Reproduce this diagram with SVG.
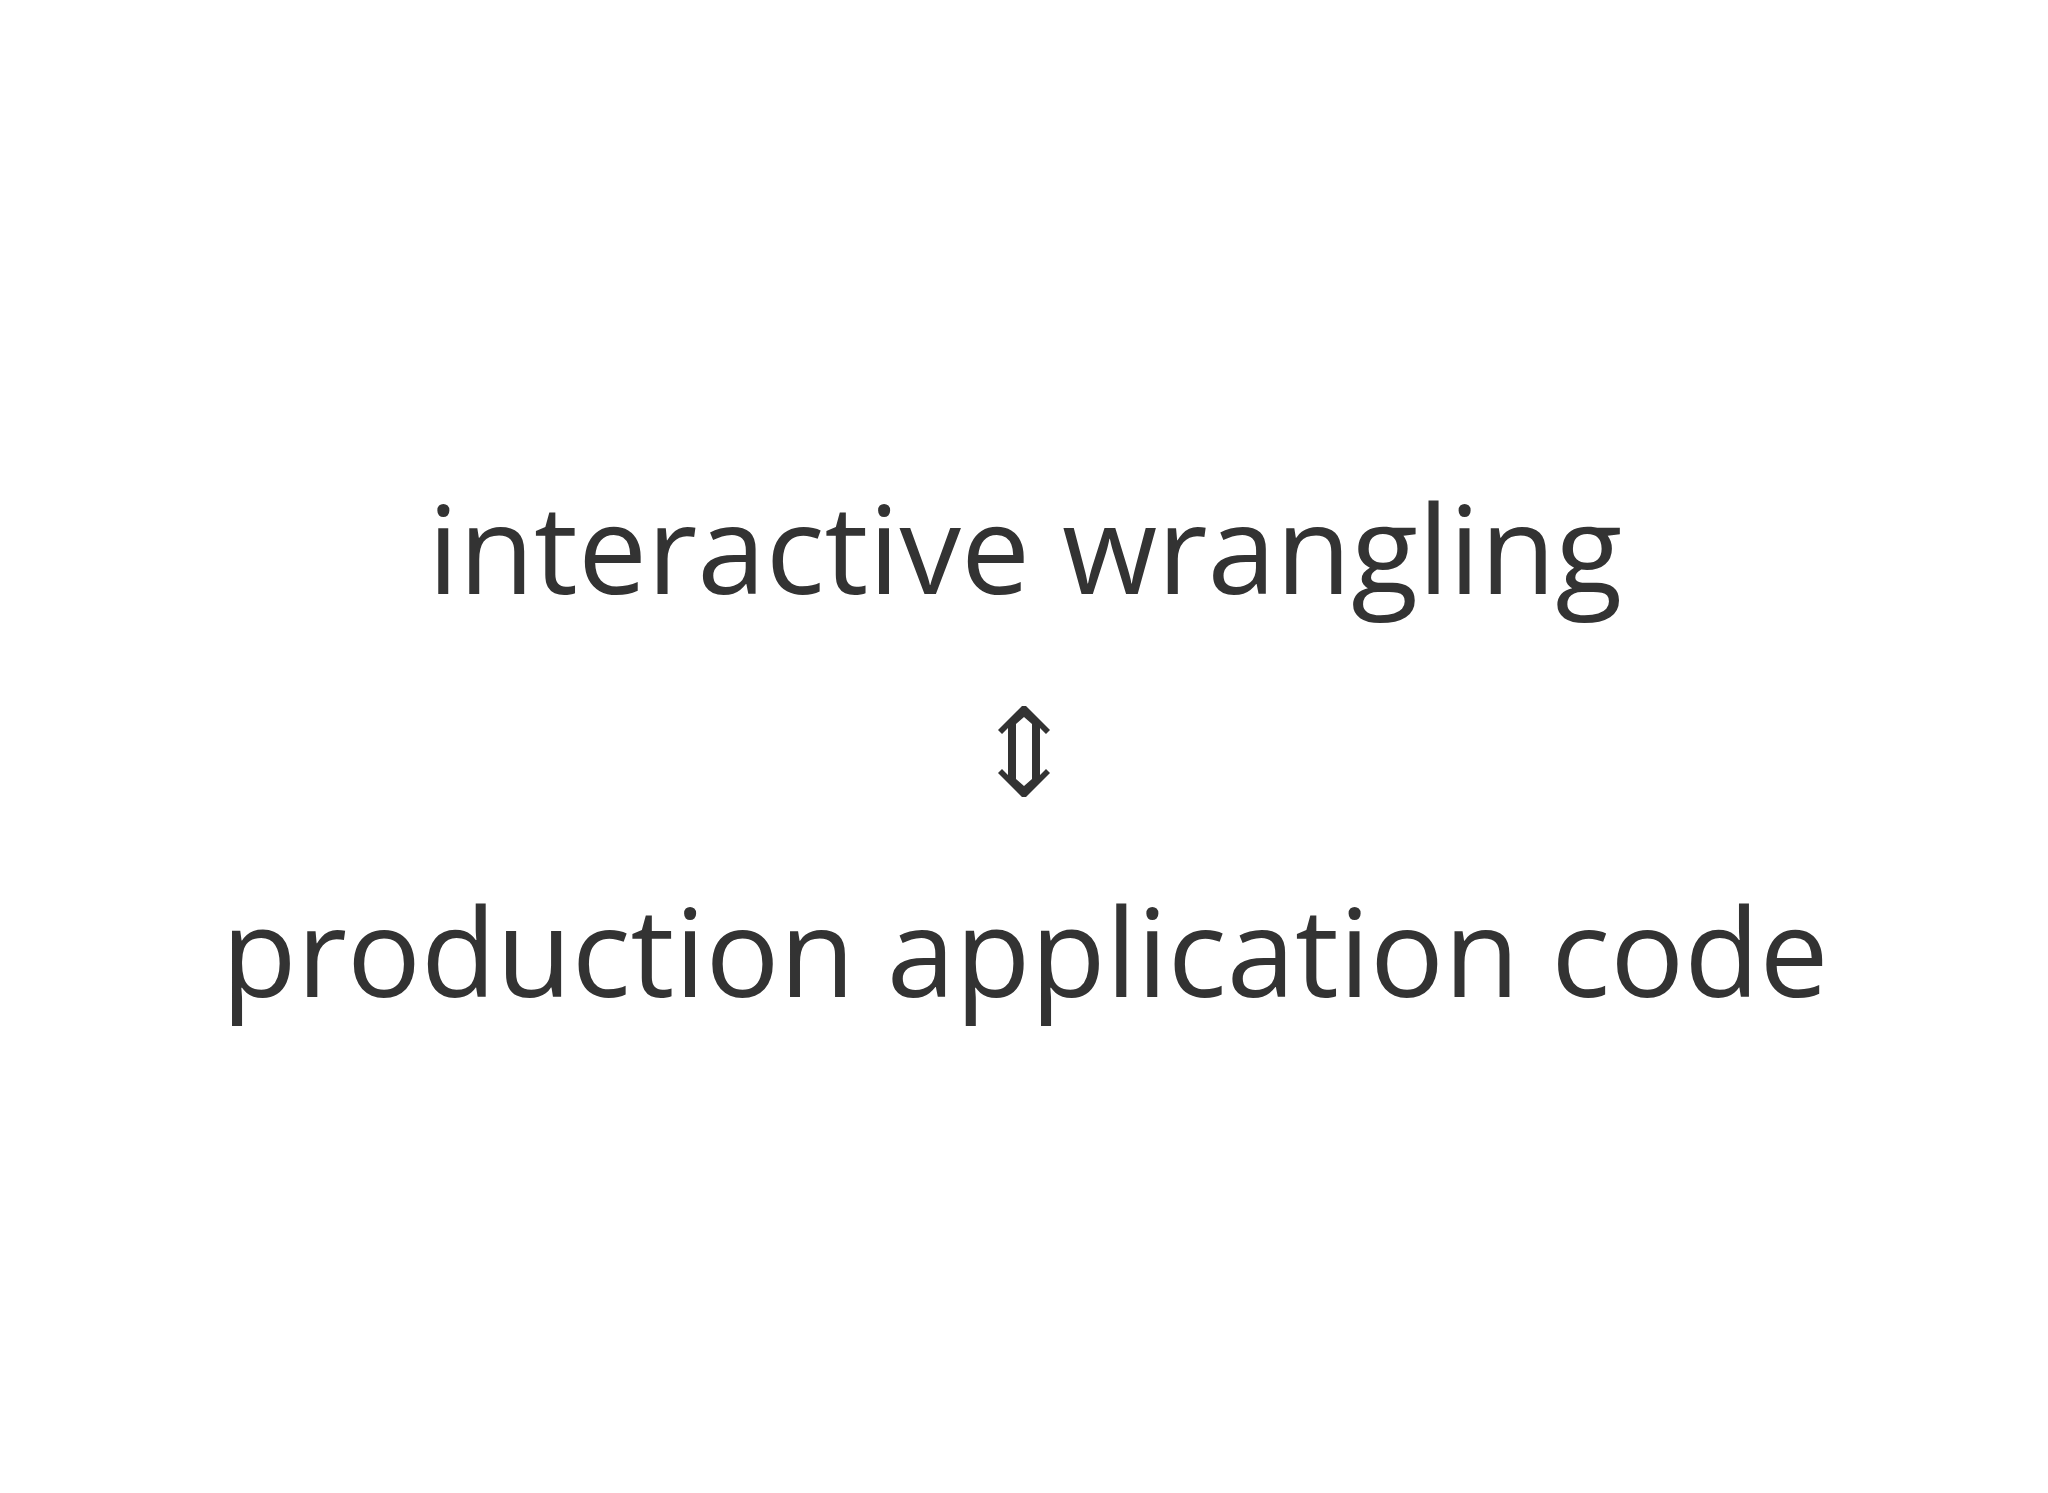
<svg xmlns="http://www.w3.org/2000/svg" width="2048" height="1493" viewBox="0 0 2048 1493">
<style>.t{font-family:"Open Sans","Liberation Sans",sans-serif;font-size:123px;fill:#333;text-anchor:middle}</style>
<rect width="2048" height="1493" fill="#fff"/>
<g id="top"><text class="t" x="1025" y="594">interactive wrangling</text></g>
<g id="connectors"><path fill="#333" fill-rule="evenodd" d="M1022,706 L1026,706 L1050,730 L1046,734 L1040,728 L1040,775 L1046,769 L1050,773 L1026,797 L1022,797 L998,773 L1002,769 L1008,775 L1008,728 L1002,734 L998,730 Z M1024,717 L1032,724 L1032,779 L1024,786 L1016,779 L1016,724 Z"/></g>
<g id="bottom"><text class="t" x="1025" y="997">production application code</text></g>
</svg>
